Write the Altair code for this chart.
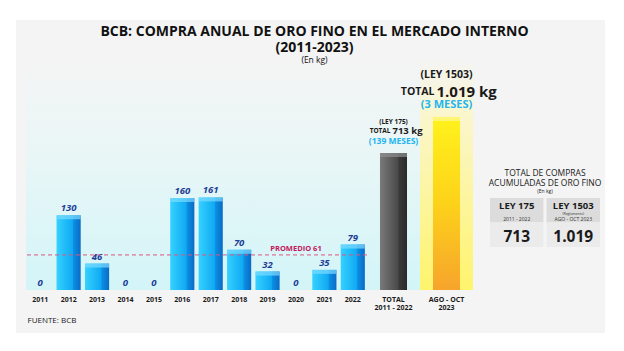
import altair as alt
import pandas as pd

# ---------------- data ----------------
years = ["2011", "2012", "2013", "2014", "2015", "2016", "2017", "2018", "2019", "2020", "2021", "2022"]
year_values = [0, 130, 46, 0, 0, 160, 161, 70, 32, 0, 35, 79]
avg_value = 61
avg_label = "PROMEDIO 61"
avg_label_year = "2020"

total_cats = ["TOTAL|2011 - 2022", "AGO - OCT|2023"]
total_values = [713, 1019]
total_ley = ["(LEY 175)", "(LEY 1503)"]
total_prefix = ["TOTAL", "TOTAL"]
total_amount = ["713 kg", "1.019 kg"]
total_months = ["(139 MESES)", "(3 MESES)"]

table_title = ["TOTAL DE COMPRAS", "ACUMULADAS DE ORO FINO"]
table_unit = "(En kg)"
table_cols = ["LEY 175", "LEY 1503"]
table_periods = ["2011 - 2022", "AGO - OCT 2023"]
table_notes = ["", "(Reglamento)"]
table_values = ["713", "1.019"]

title_lines = ["BCB: COMPRA ANUAL DE ORO FINO EN EL MERCADO INTERNO", "(2011-2023)"]
subtitle = "(En kg)"
source = "FUENTE: BCB"

FONT = "Open Sans"
DARK = "#1a1a1a"

df_years = pd.DataFrame({"year": years, "value": year_values})
df_avg = pd.DataFrame({"avg": [avg_value], "label": [avg_label], "year": [avg_label_year]})
df_tot = pd.DataFrame({"cat": total_cats, "value": total_values, "ley": total_ley,
                       "prefix": total_prefix, "amount": total_amount, "months": total_months})
rows = []
for c, p, n, v in zip(table_cols, table_periods, table_notes, table_values):
    rows.append({"col": c, "row": "header", "period": p, "note": n, "val": v})
    rows.append({"col": c, "row": "value", "period": p, "note": n, "val": v})
df_tbl = pd.DataFrame(rows)
one = alt.InlineData(values=[{"k": 0}])

# ---------------- styles ----------------
def vgrad(stops):
    return alt.LinearGradient(gradient="linear", x1=0, x2=0, y1=0, y2=1,
                              stops=[alt.GradientStop(offset=o, color=c) for o, c in stops])

def hgrad(stops):
    return alt.LinearGradient(gradient="linear", x1=0, x2=1, y1=0, y2=0,
                              stops=[alt.GradientStop(offset=o, color=c) for o, c in stops])

cyan_bg = vgrad([(0, "#f4f4f4"), (0.35, "#ebf6f6"), (1, "#d3f5f8")])
yellow_bg = vgrad([(0, "#f4f4f4"), (0.22, "#faf6cf"), (1, "#fff46c")])
blue_bar = hgrad([(0, "#35d2ff"), (0.66, "#10a9f3"), (0.7, "#0b8fe3"), (1, "#0a6bc6")])
gray_bar = hgrad([(0, "#7a7a7a"), (0.66, "#4a4a4a"), (0.7, "#3a3a3a"), (1, "#2a2a2a")])
gold_bar = vgrad([(0, "#fff21c"), (0.5, "#fdd21a"), (1, "#f6a42c")])

H = 230
W1 = 341
W2 = 106
GAP3 = 17
W3 = 127
TOT_DOMAIN = [-452, 1504]   # illustrative, non-zero baseline like the infographic

# ---------------- panel 1: annual purchases ----------------
x1 = alt.X("year:N", sort=years, scale=alt.Scale(paddingInner=0, paddingOuter=0),
           axis=alt.Axis(title=source, labelAngle=0, labelFont=FONT, labelFontSize=7,
                         labelFontWeight="bold", labelColor=DARK, domain=False, ticks=False,
                         labelPadding=5, titleAnchor="start", titleAlign="left", titleX=1,
                         titleY=30, titleBaseline="middle", titleFont=FONT, titleFontSize=8,
                         titleFontWeight="normal", titleColor=DARK, zindex=1))
y1 = alt.Y("value:Q", scale=alt.Scale(domain=[0, 383]), axis=None)

card = alt.Chart(one).mark_rect(color="#f4f4f4").encode(
    x=alt.value(-10), x2=alt.value(579), y=alt.value(-40), y2=alt.value(273))
bg1 = alt.Chart(one).mark_rect(color=cyan_bg).encode(
    x=alt.value(0), x2=alt.value("width"), y=alt.value(0), y2=alt.value("height"))
bars1 = alt.Chart(df_years).mark_bar(width=alt.RelativeBandSize(0.85), color=blue_bar).encode(x=x1, y=y1)
caps1 = alt.Chart(df_years).transform_filter("datum.value > 0").mark_tick(
    size=24, thickness=4, color="#7cdcff", yOffset=2).encode(x=x1, y=y1)
labels1 = alt.Chart(df_years).mark_text(baseline="bottom", dy=-2, font=FONT, fontStyle="italic",
                                         fontWeight="bold", fontSize=9.5, color="#1c3d96").encode(
    x=x1, y=y1, text="value:Q")
rule = alt.Chart(df_avg).mark_rule(strokeDash=[4, 3], color="#e0557f", strokeWidth=1).encode(
    y=alt.Y("avg:Q", scale=alt.Scale(domain=[0, 383]), axis=None))
rule_txt = alt.Chart(df_avg).mark_text(dy=-6, font=FONT, fontWeight="bold", fontSize=7.5,
                                       color="#c2185b").encode(
    x=alt.X("year:N", sort=years), y=alt.Y("avg:Q"), text="label:N")

p1 = alt.layer(card, bg1, bars1, caps1, labels1, rule, rule_txt).properties(width=W1, height=H)

# ---------------- panel 2: totals ----------------
x2 = alt.X("cat:N", sort=total_cats, scale=alt.Scale(paddingInner=0, paddingOuter=0),
           axis=alt.Axis(title=None, labelAngle=0, labelExpr="split(datum.label, '|')",
                         labelFont=FONT, labelFontSize=7, labelFontWeight="bold", labelColor=DARK,
                         labelLineHeight=8, domain=False, ticks=False, labelPadding=5, zindex=1))
y2 = alt.Y("value:Q", scale=alt.Scale(domain=TOT_DOMAIN, zero=False), axis=None)

def only(i):
    return alt.Chart(df_tot).transform_filter(alt.datum.cat == total_cats[i])

bg2a = only(0).mark_rect(color=cyan_bg).encode(x=x2, y=alt.value(0), y2=alt.value("height"))
bg2b = only(1).mark_rect(color=yellow_bg).encode(x=x2, y=alt.value(0), y2=alt.value("height"))
bar2a = only(0).mark_bar(width=alt.RelativeBandSize(0.51), color=gray_bar).encode(
    x=x2, y=y2, y2=alt.datum(TOT_DOMAIN[0]))
bar2b = only(1).mark_bar(width=alt.RelativeBandSize(0.51), color=gold_bar).encode(
    x=x2, y=y2, y2=alt.datum(TOT_DOMAIN[0]))
caps2 = alt.Chart(df_tot).mark_tick(size=27, thickness=4, yOffset=2).encode(
    x=x2, y=y2, color=alt.Color("cat:N", scale=alt.Scale(domain=total_cats, range=["#8e8e8e", "#fff79a"]),
                                legend=None))

ann = []
specs = [
    dict(ley=(6.5, -31), pre=(6.5, -22), amt=(9.5, -22), mon=(8.5, -12), split=-2),
    dict(ley=(10.5, -42), pre=(10.5, -25), amt=(15, -25), mon=(11, -12), split=-11),
]
for i, s in enumerate(specs):
    ann.append(only(i).mark_text(font=FONT, fontWeight="bold", fontSize=s["ley"][0], dy=s["ley"][1],
                                 color=DARK).encode(x=x2, y=y2, text="ley:N"))
    ann.append(only(i).mark_text(font=FONT, fontWeight="bold", fontSize=s["pre"][0], dy=s["pre"][1],
                                 align="right", dx=s["split"] - 1, color=DARK).encode(x=x2, y=y2, text="prefix:N"))
    ann.append(only(i).mark_text(font=FONT, fontWeight="bold", fontSize=s["amt"][0], dy=s["amt"][1],
                                 align="left", dx=s["split"] + 1, color=DARK).encode(x=x2, y=y2, text="amount:N"))
    ann.append(only(i).mark_text(font=FONT, fontWeight="bold", fontSize=s["mon"][0], dy=s["mon"][1],
                                 color="#22b5f2").encode(x=x2, y=y2, text="months:N"))

p2 = alt.layer(bg2a, bg2b, bar2a, bar2b, caps2, *ann).properties(width=W2, height=H)

# ---------------- panel 3: summary table ----------------
x3 = alt.X("col:N", sort=table_cols, scale=alt.Scale(range=[GAP3, W3], paddingInner=0.055, paddingOuter=0),
           axis=None)
y3 = alt.Y("row:N", sort=["header", "value"], scale=alt.Scale(range=[138, 187], paddingInner=0,
                                                               paddingOuter=0), axis=None)
cells = alt.Chart(df_tbl).mark_rect().encode(
    x=x3, y=y3, color=alt.Color("row:N", scale=alt.Scale(domain=["header", "value"],
                                                         range=["#dcdcdc", "#ebebeb"]), legend=None))
hdr = alt.Chart(df_tbl).transform_filter(alt.datum.row == "header")
val = alt.Chart(df_tbl).transform_filter(alt.datum.row == "value")
t_name = hdr.mark_text(font=FONT, fontWeight="bold", fontSize=9.5, dy=-4, color=DARK).encode(
    x=x3, y=y3, text="col:N")
t_note = hdr.mark_text(font=FONT, fontSize=3.5, dy=4, color="#333333").encode(x=x3, y=y3, text="note:N")
t_per = hdr.mark_text(font=FONT, fontSize=5, dy=9, color="#333333").encode(x=x3, y=y3, text="period:N")
t_val = val.mark_text(font=FONT, fontWeight="bold", fontSize=15.5, dy=2, color=DARK).encode(
    x=x3, y=y3, text="val:N")
df_tt = pd.DataFrame({"t": table_title + [table_unit], "row": ["header"] * 3})
cx = (GAP3 + W3) / 2
t_t1 = alt.Chart(df_tt.iloc[[0]]).mark_text(font=FONT, fontSize=8.5, dy=-37, color=DARK).encode(
    x=alt.value(cx), y=y3, text="t:N")
t_t2 = alt.Chart(df_tt.iloc[[1]]).mark_text(font=FONT, fontSize=8.5, dy=-27, color=DARK).encode(
    x=alt.value(cx), y=y3, text="t:N")
t_t3 = alt.Chart(df_tt.iloc[[2]]).mark_text(font=FONT, fontSize=5, dy=-19, color=DARK).encode(
    x=alt.value(cx), y=y3, text="t:N")

p3 = alt.layer(cells, t_name, t_note, t_per, t_val, t_t1, t_t2, t_t3).properties(width=W3, height=H)

chart = alt.hconcat(p1, p2, p3, spacing=0, bounds="flush").resolve_scale(
    y="independent", x="independent", color="independent"
).properties(
    title=alt.TitleParams(text=title_lines, subtitle=subtitle, anchor="middle", font=FONT,
                          fontSize=14, fontWeight="bold", color="#111111", lineHeight=16,
                          subtitleFont=FONT, subtitleFontSize=8.5, subtitleColor="#111111",
                          subtitlePadding=1, offset=0, dy=44, dx=4),
    padding={"left": 16, "top": 20, "right": 19, "bottom": 18},
    background="#ffffff",
).configure_view(stroke=None)

chart.save("out.html", embed_options={"renderer": "svg", "actions": False})
